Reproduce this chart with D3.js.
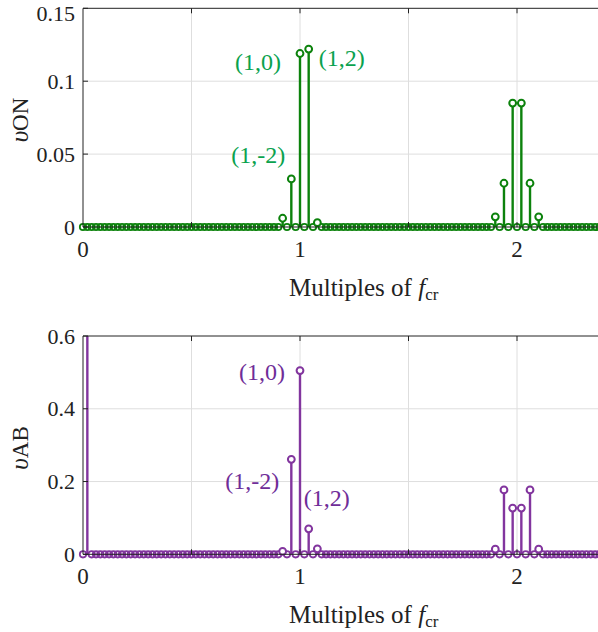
<!DOCTYPE html>
<html>
<head>
<meta charset="utf-8">
<script src="https://cdn.jsdelivr.net/npm/d3@7"></script>
<style>
  html, body { margin: 0; padding: 0; background: #fff; }
  svg { display: block; }
  svg text { font-family: "Times New Roman", Times, "Liberation Serif", "DejaVu Serif", FreeSerif, serif; }
</style>
</head>
<body>
<svg id="chart" width="598" height="632"></svg>
<script>
// ---------- data ----------
const baseFreqStep = 0.02;           // spectral resolution (multiples of f_cr)
const xMax = 2.4;
const xTicks = [0, 0.5, 1, 1.5, 2];
const xTickLabels = ["0", "", "1", "", "2"];

// v_ON spectrum (non-zero lines)
const onFreqs  = [0.92, 0.96, 1.00, 1.04, 1.08, 1.90, 1.94, 1.98, 2.02, 2.06, 2.10];
const onValues = [0.006, 0.033, 0.119, 0.122, 0.003, 0.007, 0.030, 0.085, 0.085, 0.030, 0.007];
const onYTicks = [0, 0.05, 0.1, 0.15];
const onYTickLabels = ["0", "0.05", "0.1", "0.15"];

// v_AB spectrum (non-zero lines)
const abFreqs  = [0.02, 0.92, 0.96, 1.00, 1.04, 1.08, 1.90, 1.94, 1.98, 2.02, 2.06, 2.10];
const abValues = [1.00, 0.008, 0.261, 0.505, 0.070, 0.015, 0.014, 0.177, 0.127, 0.127, 0.177, 0.014];
const abYTicks = [0, 0.2, 0.4, 0.6];
const abYTickLabels = ["0", "0.2", "0.4", "0.6"];

// annotations
const onLabels = [
  { text: "(1,0)",  f: 1.00, v: 0.119 },
  { text: "(1,2)",  f: 1.04, v: 0.122 },
  { text: "(1,-2)", f: 0.96, v: 0.033 }
];
const abLabels = [
  { text: "(1,0)",  f: 1.00, v: 0.505 },
  { text: "(1,-2)", f: 0.96, v: 0.261 },
  { text: "(1,2)",  f: 1.04, v: 0.070 }
];

// ---------- drawing ----------
const svg = d3.select("#chart");
const zeroFreqs = d3.range(0, Math.round(xMax / baseFreqStep) + 1).map(i => +(i * baseFreqStep).toFixed(4));

function panel(cfg) {
  const x = d3.scaleLinear().domain([0, xMax]).range([83, 83 + xMax * 217]);
  const y = d3.scaleLinear().domain(cfg.yDomain).range([cfg.y0, cfg.yTop]).clamp(true);
  const g = svg.append("g");

  // grid
  g.selectAll(".gx").data(xTicks.filter(d => d > 0)).enter().append("line")
    .attr("x1", d => x(d)).attr("x2", d => x(d))
    .attr("y1", y(cfg.yDomain[0])).attr("y2", y(cfg.yDomain[1]))
    .attr("stroke", "#dedede").attr("stroke-width", 1);
  g.selectAll(".gy").data(cfg.yTicks.filter(d => d > 0 && d < cfg.yDomain[1])).enter().append("line")
    .attr("x1", x(0)).attr("x2", 598)
    .attr("y1", d => y(d)).attr("y2", d => y(d))
    .attr("stroke", "#dedede").attr("stroke-width", 1);

  // zero-valued markers (baseline chain)
  const nz = new Set(cfg.freqs.map(f => f.toFixed(2)));
  g.selectAll(".z").data(zeroFreqs.filter(f => !nz.has(f.toFixed(2)))).enter().append("circle")
    .attr("cx", d => x(d)).attr("cy", y(0)).attr("r", 3.2)
    .attr("fill", "none").attr("stroke", cfg.color).attr("stroke-width", 1.8);

  // stems
  const pts = cfg.freqs.map((f, i) => ({ f, v: cfg.values[i] }));
  g.selectAll(".s").data(pts).enter().append("line")
    .attr("x1", d => x(d.f)).attr("x2", d => x(d.f))
    .attr("y1", y(0)).attr("y2", d => y(d.v))
    .attr("stroke", cfg.color).attr("stroke-width", 2.4);
  g.selectAll(".m").data(pts.filter(d => d.v <= cfg.yDomain[1])).enter().append("circle")
    .attr("cx", d => x(d.f)).attr("cy", d => y(d.v)).attr("r", 3.4)
    .attr("fill", "#fff").attr("stroke", cfg.color).attr("stroke-width", 2);

  // axes box lines
  g.append("line").attr("x1", x(0)).attr("x2", 598).attr("y1", y(cfg.yDomain[1])).attr("y2", y(cfg.yDomain[1]))
    .attr("stroke", "#222").attr("stroke-width", 1);
  g.append("line").attr("x1", x(0)).attr("x2", 598).attr("y1", y(0)).attr("y2", y(0))
    .attr("stroke", "#222").attr("stroke-width", 1);
  g.append("line").attr("x1", x(0)).attr("x2", x(0)).attr("y1", y(0)).attr("y2", y(cfg.yDomain[1]))
    .attr("stroke", "#222").attr("stroke-width", 1);

  // tick marks (inward)
  xTicks.filter(d => d > 0).forEach(t => {
    g.append("line").attr("x1", x(t)).attr("x2", x(t)).attr("y1", y(cfg.yDomain[1])).attr("y2", y(cfg.yDomain[1]) + 5)
      .attr("stroke", "#222");
    g.append("line").attr("x1", x(t)).attr("x2", x(t)).attr("y1", y(0)).attr("y2", y(0) - 5)
      .attr("stroke", "#222");
  });
  cfg.yTicks.forEach(t => {
    g.append("line").attr("x1", x(0)).attr("x2", x(0) + 5).attr("y1", y(t)).attr("y2", y(t)).attr("stroke", "#222");
  });

  // tick labels
  g.selectAll(".xl").data(xTicks.map((t, i) => ({ t, l: xTickLabels[i] })).filter(d => d.l)).enter().append("text")
    .attr("x", d => x(d.t)).attr("y", y(0) + 30)
    .attr("text-anchor", "middle").attr("font-size", 23).attr("fill", "#222")
    .text(d => d.l);
  g.selectAll(".yl").data(cfg.yTicks.map((t, i) => ({ t, l: cfg.yTickLabels[i] }))).enter().append("text")
    .attr("x", 75).attr("y", d => Math.max(y(d.t) + 7.5, 21))
    .attr("text-anchor", "end").attr("font-size", 22).attr("fill", "#222")
    .text(d => d.l);

  // y axis label
  const yl = g.append("text")
    .attr("transform", `translate(28,${cfg.yLabelY}) rotate(-90)`)
    .attr("text-anchor", "middle").attr("font-size", 25).attr("fill", "#222");
  yl.append("tspan").attr("font-style", "italic").text("υ");
  yl.append("tspan").attr("font-size", 23).text(cfg.sub);

  // x axis label
  const xl = g.append("text")
    .attr("x", 289).attr("y", y(0) + 69)
    .attr("font-size", 25).attr("fill", "#222");
  xl.append("tspan").text("Multiples of ");
  xl.append("tspan").attr("font-style", "italic").text("f");
  xl.append("tspan").attr("font-size", 17).attr("dy", 4).text("cr");

  // annotations
  g.selectAll(".ann").data(cfg.labels).enter().append("text")
    .attr("x", d => x(d.f) + cfg.labelPos[d.text][0])
    .attr("y", d => y(d.v) + cfg.labelPos[d.text][1])
    .attr("text-anchor", d => cfg.labelPos[d.text][2])
    .attr("font-size", 24).attr("fill", cfg.labelColor)
    .text(d => d.text);
}

panel({
  yDomain: [0, 0.15], y0: 227, yTop: 8.3,
  yTicks: onYTicks, yTickLabels: onYTickLabels,
  freqs: onFreqs, values: onValues,
  color: "#0c820c", labelColor: "#0aa24e",
  sub: "ON", yLabelY: 120,
  labels: onLabels,
  labelPos: { "(1,0)": [-19, 17, "end"], "(1,2)": [10, 17, "start"], "(1,-2)": [-6, -16, "end"] }
});
panel({
  yDomain: [0, 0.6], y0: 554.3, yTop: 336,
  yTicks: abYTicks, yTickLabels: abYTickLabels,
  freqs: abFreqs, values: abValues,
  color: "#82359e", labelColor: "#6f2d98",
  sub: "AB", yLabelY: 448,
  labels: abLabels,
  labelPos: { "(1,0)": [-15, 9, "end"], "(1,-2)": [-12, 30, "end"], "(1,2)": [-5, -23, "start"] }
});
</script>
</body>
</html>
